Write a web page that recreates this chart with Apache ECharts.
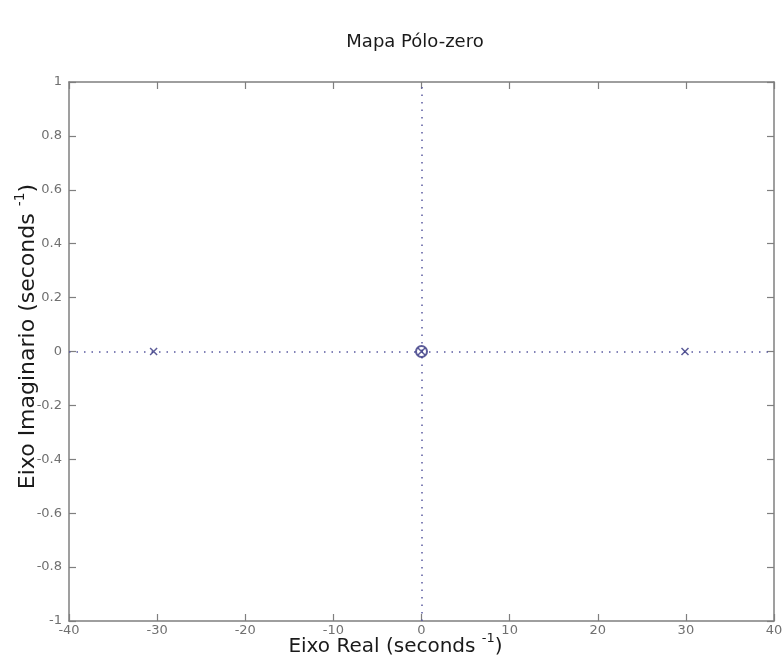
<!DOCTYPE html>
<html>
<head>
<meta charset="utf-8">
<script src="https://cdn.jsdelivr.net/npm/echarts@6/dist/echarts.min.js"></script>
<style>html,body{margin:0;padding:0;background:#fff}#c{width:783px;height:661px}</style>
</head>
<body>
<div id="c"></div>
<script>
const titleText = 'Mapa Pólo-zero';
const xTicks = [-40, -30, -20, -10, 0, 10, 20, 30, 40];
const yTicks = [-1, -0.8, -0.6, -0.4, -0.2, 0, 0.2, 0.4, 0.6, 0.8, 1];
const poles = [[-30.4, 0], [0, 0], [29.9, 0]];
const zeros = [[0, 0]];

const chart = echarts.init(document.getElementById('c'));
const FONT = 'DejaVu Sans, Liberation Sans, sans-serif';
const axisCol = '#7f7f7f';
const labCol = '#707070';
const mkCol = '#33337f';
const xPath = 'path://M0,0L10,10M10,0L0,10';

function fmtY(v){ return (Math.round(v*10)/10).toString(); }

chart.setOption({
  animation: false,
  title: {text: titleText, left: 410, top: 28, textAlign: 'center',
    textStyle: {fontSize: 18, fontWeight: 'normal', fontFamily: FONT, color: '#1a1a1a'}},
  grid: {left: 69, right: 9, top: 82, bottom: 40, containLabel: false, outerBoundsMode: 'none'},
  xAxis: [{
    type: 'value', min: xTicks[0], max: xTicks[xTicks.length-1], interval: 10,
    position: 'bottom',
    name: '{a|Eixo Real (seconds }{s|-1}{a|)}', nameLocation: 'middle', nameGap: 11,
    nameMoveOverlap: false,
    nameTextStyle: {padding: [0, 52, 0, 0], rich: {
      a: {fontSize: 20, fontFamily: FONT, color: '#1a1a1a'},
      s: {fontSize: 13, fontFamily: FONT, color: '#1a1a1a', padding: [0, 0, 16, 0]}
    }},
    axisLine: {onZero: false, lineStyle: {color: axisCol, width: 1.5}},
    axisTick: {inside: true, length: 7, lineStyle: {color: axisCol, width: 1.2}},
    axisLabel: {color: labCol, fontSize: 13, fontFamily: FONT, margin: 3},
    splitLine: {show: false}
  }, {
    type: 'value', min: xTicks[0], max: xTicks[xTicks.length-1], interval: 10,
    position: 'top',
    axisLine: {onZero: false, lineStyle: {color: axisCol, width: 1.5}},
    axisTick: {inside: true, length: 7, lineStyle: {color: axisCol, width: 1.2}},
    axisLabel: {show: false}, splitLine: {show: false}
  }],
  yAxis: [{
    type: 'value', min: yTicks[0], max: yTicks[yTicks.length-1], interval: 0.2,
    position: 'left',
    name: '{a|Eixo Imaginario (seconds }{s|-1}{a|)}', nameLocation: 'middle', nameGap: 25,
    nameRotate: 90, nameMoveOverlap: false,
    nameTextStyle: {padding: [0, 0, 0, 30], rich: {
      a: {fontSize: 22, fontFamily: FONT, color: '#1a1a1a'},
      s: {fontSize: 14, fontFamily: FONT, color: '#1a1a1a', padding: [0, 0, 17, 0]}
    }},
    axisLine: {onZero: false, lineStyle: {color: axisCol, width: 1.5}},
    axisTick: {inside: true, length: 7, lineStyle: {color: axisCol, width: 1.2}},
    axisLabel: {color: labCol, fontSize: 13, fontFamily: FONT, margin: 7, formatter: fmtY},
    splitLine: {show: false}
  }, {
    type: 'value', min: yTicks[0], max: yTicks[yTicks.length-1], interval: 0.2,
    position: 'right',
    axisLine: {onZero: false, lineStyle: {color: axisCol, width: 1.5}},
    axisTick: {inside: true, length: 7, lineStyle: {color: axisCol, width: 1.2}},
    axisLabel: {show: false}, splitLine: {show: false}
  }],
  series: [{
    type: 'scatter', data: poles, symbol: xPath, symbolSize: 7,
    itemStyle: {color: 'none', borderColor: mkCol, borderWidth: 1.5},
    markLine: {
      silent: true, symbol: 'none', label: {show: false},
      lineStyle: {color: '#5a5aa0', type: [1.5, 6], width: 1.5},
      data: [{yAxis: 0}, {xAxis: 0}]
    },
    z: 5
  }, {
    type: 'scatter', data: zeros, symbol: 'circle', symbolSize: 11,
    itemStyle: {color: 'none', borderColor: mkCol, borderWidth: 2},
    z: 5
  }]
});
</script>
</body>
</html>
